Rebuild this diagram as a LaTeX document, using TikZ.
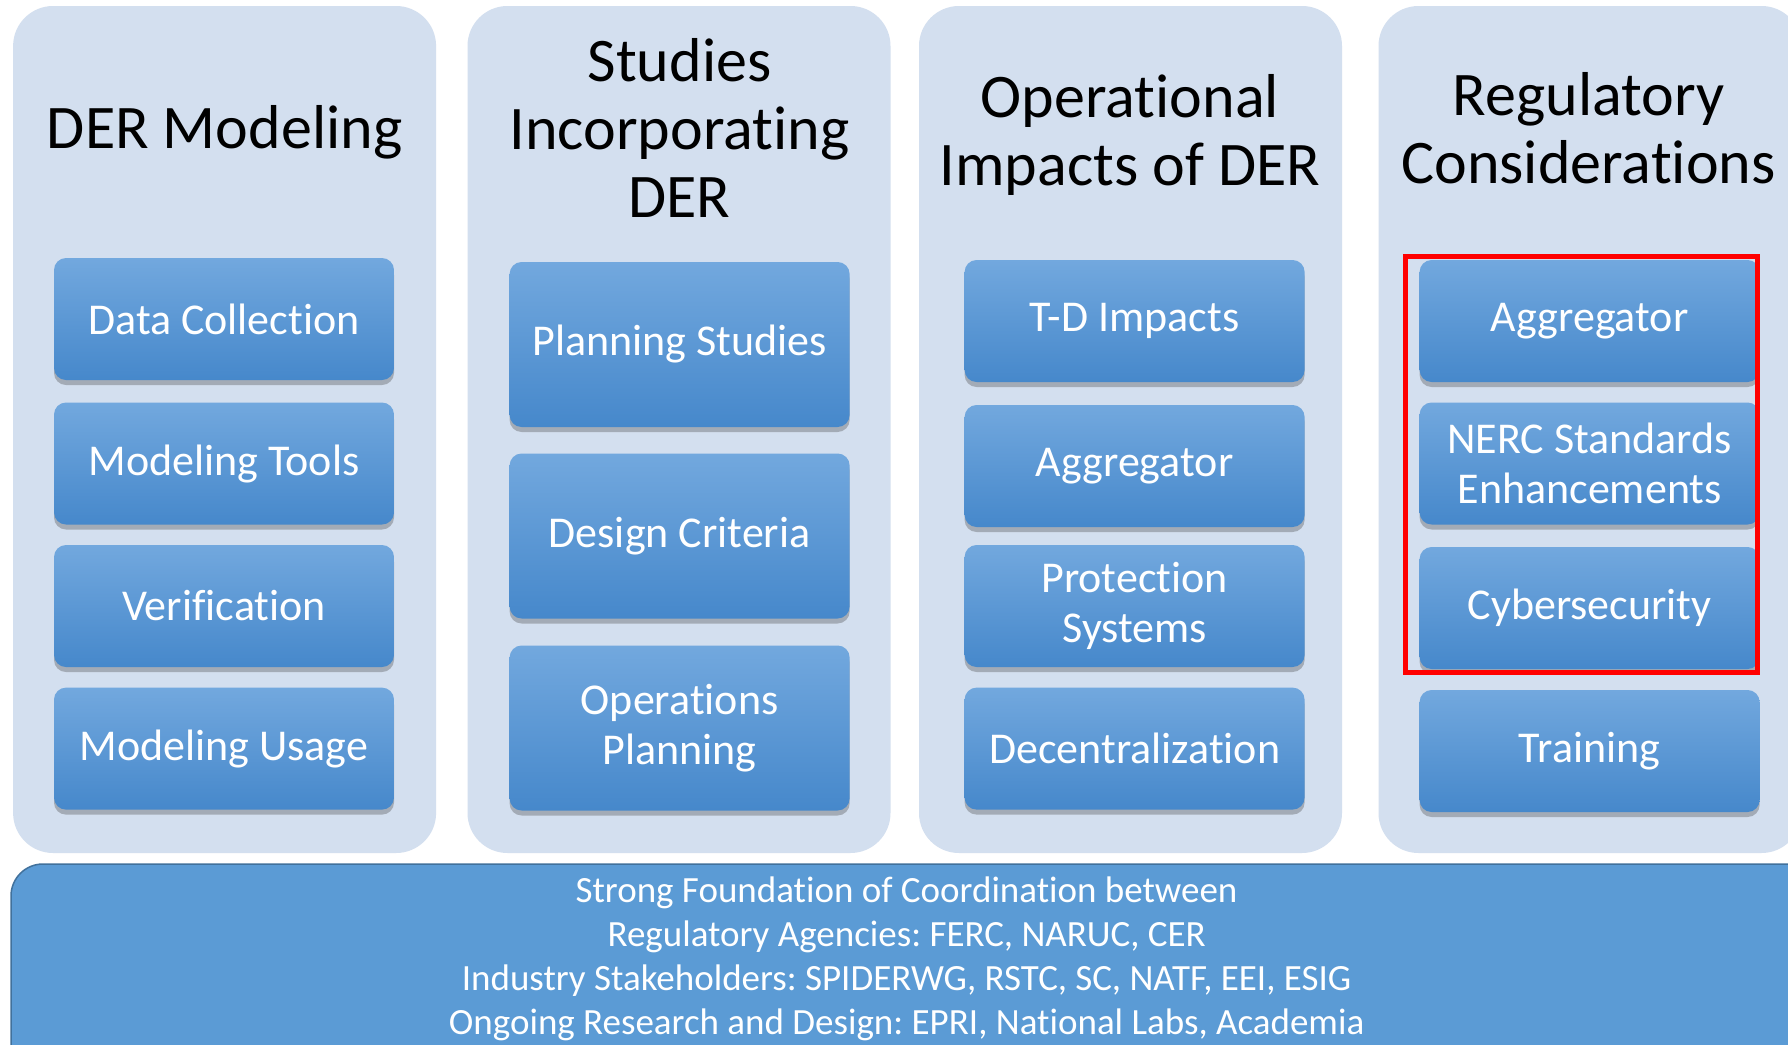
\documentclass[tikz,border=0pt]{standalone}
\usepackage{fontspec}
\setmainfont{Carlito}[Ligatures=NoCommon]
\usetikzlibrary{shadows}
\frenchspacing
\definecolor{panebg}{RGB}{211,223,239}
\definecolor{tiletop}{RGB}{114,168,222}
\definecolor{tilebot}{RGB}{70,136,203}
\definecolor{basefill}{RGB}{91,155,213}
\definecolor{baseedge}{RGB}{65,113,156}
\tikzset{pane/.style={fill=panebg,rounded corners=40pt,minimum width=423pt,minimum height=847pt,inner sep=0pt},
  tile/.style={rounded corners=12pt,top color=tiletop,bottom color=tilebot,text=white,align=center,
    minimum width=340pt,inner sep=0pt,font=\fontsize{44}{50}\selectfont,
    drop shadow={shadow xshift=0pt,shadow yshift=-5pt,opacity=0.35,fill=black!70}},
  heading/.style={align=center,font=\fontsize{62}{68}\selectfont},
  base/.style={fill=basefill,draw=baseedge,line width=1.5pt,rounded corners=32pt,inner sep=0pt},
  basetext/.style={text=white,align=center,font=\fontsize{37}{44}\selectfont},
  redmark/.style={draw=red,line width=5pt}}

\begin{document}
\begin{tikzpicture}[x=1pt,y=-1pt]
\useasboundingbox[fill=white] (0,0) rectangle (1788,1044);
\clip (0,0) rectangle (1788,1044);
% four columns
\node[pane] (p1) at (224.6,429.5) {};
\node[pane] (p2) at (679,429.5) {};
\node[pane] (p3) at (1130.5,429.5) {};
\node[pane] (p4) at (1590,429.5) {};
\node[heading] (h1) at (224.6,132) {DER Modeling};
\node[heading] (h2) at (679.6,127.5) {Studies\\Incorporating\\DER};
\node[heading] (h3) at (1130,134.5) {Operational\\Impacts of DER};
\node[heading] (h4) at (1588.5,128.5) {Regulatory\\Considerations};
% DER modeling
\node[tile,minimum height=122pt] (m1) at (224,319) {Data Collection};
\node[tile,minimum height=122pt] (m2) at (224,463.5) {Modeling Tools};
\node[tile,minimum height=122pt] (m3) at (224,606) {Verification};
\node[tile,minimum height=122pt] (m4) at (224,748.6) {Modeling Usage};
% studies
\node[tile,minimum height=165pt] (s1) at (679.6,344.5) {Planning Studies};
\node[tile,minimum height=165pt] (s2) at (679.6,536) {Design Criteria};
\node[tile,minimum height=165pt] (s3) at (679.6,728) {Operations\\Planning};
% operational impacts
\node[tile,minimum height=122pt] (o1) at (1134.6,321) {T-D Impacts};
\node[tile,minimum height=122pt] (o2) at (1134.6,466) {Aggregator};
\node[tile,minimum height=122pt] (o3) at (1134.6,606) {Protection\\Systems};
\node[tile,minimum height=122pt] (o4) at (1134.6,748.6) {Decentralization};
% regulatory
\node[tile,minimum height=122pt] (r1) at (1589.6,321) {Aggregator};
\node[tile,minimum height=122pt] (r2) at (1589.6,463.5) {NERC Standards\\Enhancements};
\node[tile,minimum height=122pt] (r3) at (1589.6,608) {Cybersecurity};
\node[tile,minimum height=122pt] (r4) at (1589.6,751) {Training};
\draw[redmark] (1405,256) rectangle (1757,672);
% foundation banner
\node[base,minimum width=1830pt,minimum height=220pt] (found) at (926,974) {};
\node[basetext] (ft) at (906.6,958.5) {Strong Foundation of Coordination between\\
  Regulatory Agencies: FERC, NARUC, CER\\
  Industry Stakeholders: SPIDERWG, RSTC, SC, NATF, EEI, ESIG\\
  Ongoing Research and Design: EPRI, National Labs, Academia};
\end{tikzpicture}
\end{document}
